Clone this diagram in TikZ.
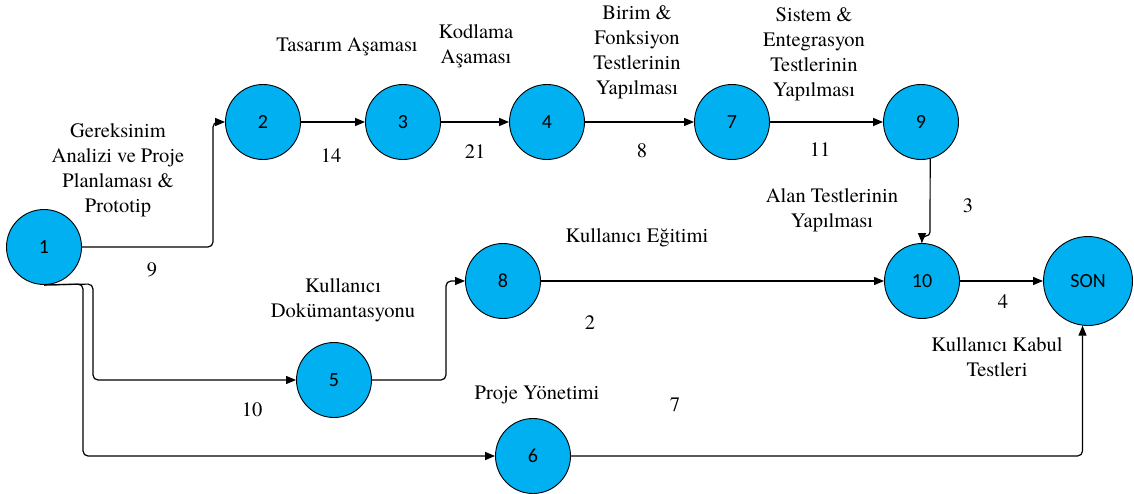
\documentclass[tikz,border=0pt]{standalone}
\usepackage{fontspec}
\newfontfamily\tms{TeX Gyre Termes}
\newfontfamily\calib{Carlito}
\usetikzlibrary{arrows.meta}
\definecolor{nodeblue}{HTML}{00B0F0}
\begin{document}
\begin{tikzpicture}[x=1pt,y=-1pt,
  ev/.style={circle,draw=black,line width=0.9pt,fill=nodeblue,minimum size=75pt,inner sep=0pt,font=\calib\fontsize{20}{24}\selectfont},
  lbl/.style={align=center,inner sep=0pt,font=\tms\fontsize{20.5}{25}\selectfont},
  arr/.style={line width=1.2pt,-{Triangle[length=10pt,width=8pt]},rounded corners=5pt}]
\useasboundingbox (0,0) rectangle (1134,494);
% events
\node[ev] (n1) at (44,247) {1};
\node[ev] (n2) at (263,122) {2};
\node[ev] (n3) at (403,122) {3};
\node[ev] (n4) at (547,122) {4};
\node[ev] (n7) at (732,122) {7};
\node[ev] (n9) at (921,122) {9};
\node[ev] (n8) at (503,281) {8};
\node[ev] (n10) at (922,281) {10};
\node[ev] (n5) at (334,380) {5};
\node[ev] (n6) at (533,456) {6};
\node[ev,minimum size=89pt] (son) at (1088,281) {SON};
% corner coordinates
\coordinate (c12) at (213,247);
\coordinate (c15) at (93,284);
\coordinate (c16) at (83,284);
\coordinate (c58) at (446,380);
\coordinate (c910) at (930,236);
% connectors
\draw[arr] (n1.east) -- (c12) |- (n2.west);
\draw[arr] (n2) -- (n3);
\draw[arr] (n3) -- (n4);
\draw[arr] (n4) -- (n7);
\draw[arr] (n7) -- (n9);
\draw[arr] (n1.south) -- (c15) |- (n5.west);
\draw[arr] (n1.south) -- (c16) |- (n6.west);
\draw[arr] (n5.east) -- (c58) |- (n8.west);
\draw[arr] (n8) -- (n10);
\draw[arr] (n10) -- (son);
\draw[arr,rounded corners=4pt] (n9.-76) -- (c910) -| (n10.north);
\draw[arr] (n6.east) -| (son.263.6);
% labels
\node[lbl] (t12) at (118,170) {Gereksinim\\Analizi ve Proje\\Planlaması \&\\Prototip};
\node[lbl] (d12) at (152,270) {9};
\node[lbl] (t23) at (347,47) {Tasarım Aşaması};
\node[lbl] (d23) at (331,156) {14};
\node[lbl] (t34) at (476,46) {Kodlama\\Aşaması};
\node[lbl] (d34) at (475,152) {21};
\node[lbl] (t47) at (637,52) {Birim \&\\Fonksiyon\\Testlerinin\\Yapılması};
\node[lbl] (d47) at (642,151) {8};
\node[lbl] (t79) at (814,54) {Sistem \&\\Entegrasyon\\Testlerinin\\Yapılması};
\node[lbl] (d79) at (820,150) {11};
\node[lbl] (t910) at (832,210) {Alan Testlerinin\\Yapılması};
\node[lbl] (d910) at (968,206) {3};
\node[lbl] (t810) at (637,238) {Kullanıcı Eğitimi};
\node[lbl] (d810) at (590,323) {2};
\node[lbl] (t15) at (343,300) {Kullanıcı\\Dokümantasyonu};
\node[lbl] (d15) at (252,410) {10};
\node[lbl] (t16) at (537,395) {Proje Yönetimi};
\node[lbl] (d16) at (675,405) {7};
\node[lbl] (d10s) at (1003,302) {4};
\node[lbl] (t6s) at (997,357) {Kullanıcı Kabul\\Testleri};
\end{tikzpicture}
\end{document}
